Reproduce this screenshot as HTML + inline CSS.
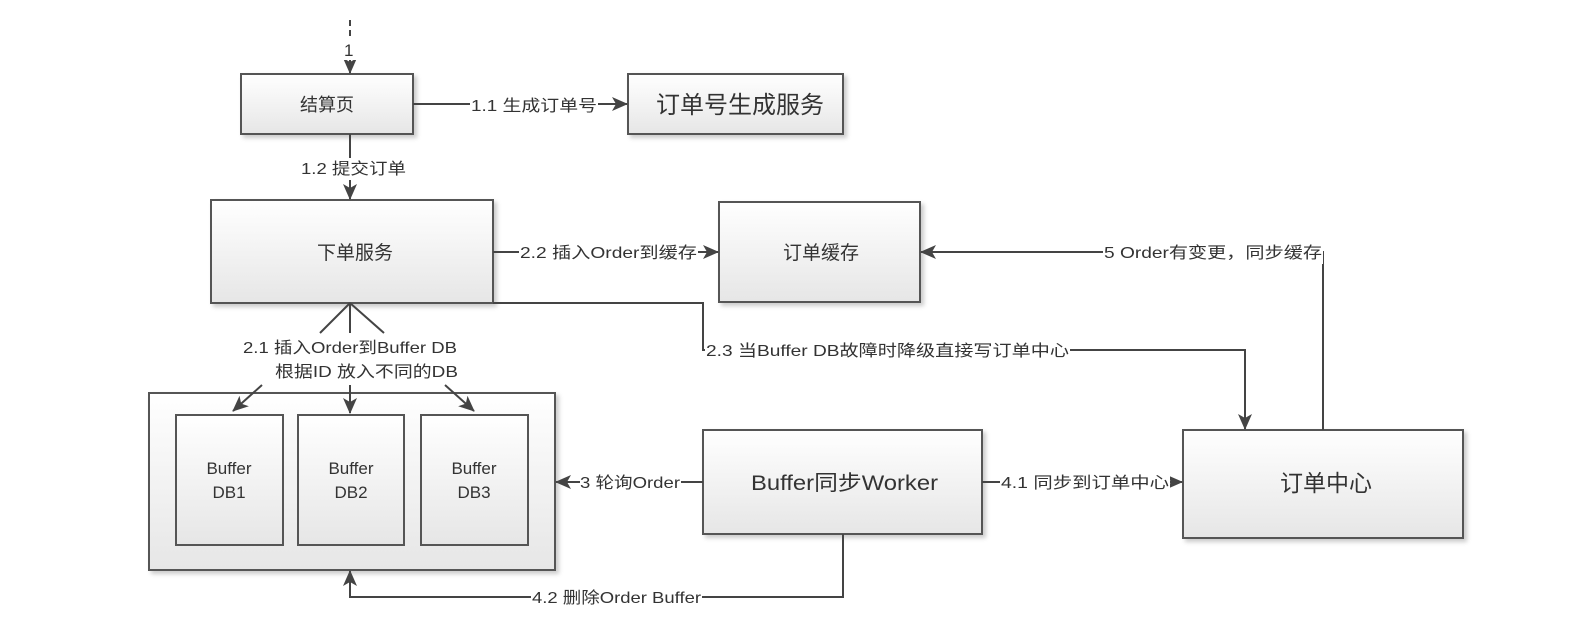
<!DOCTYPE html>
<html><head><meta charset="utf-8"><style>
body{margin:0;background:#fff}
text{font-family:"Liberation Sans","Noto Sans CJK SC",sans-serif;fill:#333}
</style></head><body>
<svg width="1572" height="630" xmlns="http://www.w3.org/2000/svg">
<defs>
<linearGradient id="g" x1="0" y1="0" x2="0" y2="1"><stop offset="0" stop-color="#ffffff"/><stop offset="1" stop-color="#e6e6e6"/></linearGradient>
<marker id="a" markerWidth="16" markerHeight="14" refX="15" refY="7" orient="auto" markerUnits="userSpaceOnUse"><path d="M0,0 L16,7 L0,14 L4,7 z" fill="#444"/></marker>
<filter id="s" x="-5%" y="-5%" width="115%" height="125%"><feDropShadow dx="3" dy="3" stdDeviation="2" flood-color="#000" flood-opacity="0.2"/></filter>
</defs>
<g stroke="#555" stroke-width="2" fill="url(#g)" filter="url(#s)">
<rect x="241" y="74" width="172" height="60"/>
<rect x="628" y="74" width="215" height="60"/>
<rect x="211" y="200" width="282" height="103"/>
<rect x="719" y="202" width="201" height="100"/>
<rect x="149" y="393" width="406" height="177"/>
<rect x="176" y="415" width="107" height="130"/>
<rect x="298" y="415" width="106" height="130"/>
<rect x="421" y="415" width="107" height="130"/>
<rect x="703" y="430" width="279" height="104"/>
<rect x="1183" y="430" width="280" height="108"/>
</g>
<g stroke="#444" stroke-width="2" fill="none">
<path d="M350,20 V73" stroke-dasharray="6,4" marker-end="url(#a)"/>
<path d="M413,104 H627" marker-end="url(#a)"/>
<path d="M350,134 V199" marker-end="url(#a)"/>
<path d="M493,252 H718" marker-end="url(#a)"/>
<path d="M1323,430 V252 H921" marker-end="url(#a)"/>
<path d="M493,303 H703 V350 H1245 V429" marker-end="url(#a)"/>
<path d="M350,303 L320,333 M350,303 V333 M350,303 L384,333"/>
<path d="M262,385 L233,411" marker-end="url(#a)"/>
<path d="M350,385 V413" marker-end="url(#a)"/>
<path d="M445,385 L474,411" marker-end="url(#a)"/>
<path d="M703,482 H556" marker-end="url(#a)"/>
<path d="M982,482 H1182" marker-end="url(#a)"/>
<path d="M843,534 V597 H350 V571" marker-end="url(#a)"/>
</g>
<g fill="#fff">
<rect x="343" y="40" width="14" height="20"/>
<rect x="470" y="94" width="128" height="22"/>
<rect x="300" y="158" width="107" height="22"/>
<rect x="519" y="242" width="179" height="22"/>
<rect x="1103" y="242" width="220" height="22"/>
<rect x="705" y="340" width="365" height="22"/>
<rect x="580" y="472" width="101" height="22"/>
<rect x="1000" y="472" width="170" height="22"/>
<rect x="531" y="587" width="171" height="22"/>
</g>
<g font-size="16">
<text x="344" y="56" font-size="17">1</text>
<text x="471" y="111" textLength="126" lengthAdjust="spacingAndGlyphs">1.1 生成订单号</text>
<text x="301" y="174" textLength="105" lengthAdjust="spacingAndGlyphs">1.2 提交订单</text>
<text x="520" y="258" textLength="177" lengthAdjust="spacingAndGlyphs">2.2 插入Order到缓存</text>
<text x="1104" y="258" textLength="218" lengthAdjust="spacingAndGlyphs">5 Order有变更，同步缓存</text>
<text x="706" y="356" textLength="363" lengthAdjust="spacingAndGlyphs">2.3 当Buffer DB故障时降级直接写订单中心</text>
<text x="243" y="353" textLength="214" lengthAdjust="spacingAndGlyphs">2.1 插入Order到Buffer DB</text>
<text x="275" y="377" textLength="183" lengthAdjust="spacingAndGlyphs">根据ID 放入不同的DB</text>
<text x="580" y="488" textLength="100" lengthAdjust="spacingAndGlyphs">3 轮询Order</text>
<text x="1001" y="488" textLength="168" lengthAdjust="spacingAndGlyphs">4.1 同步到订单中心</text>
<text x="532" y="603" textLength="169" lengthAdjust="spacingAndGlyphs">4.2 删除Order Buffer</text>
</g>
<g text-anchor="middle">
<text x="327" y="111" font-size="18">结算页</text>
<text x="740" y="113" font-size="24">订单号生成服务</text>
<text x="355" y="259" font-size="19">下单服务</text>
<text x="821" y="259" font-size="19">订单缓存</text>
<g font-size="17">
<text x="229" y="474">Buffer</text><text x="229" y="498">DB1</text>
<text x="351" y="474">Buffer</text><text x="351" y="498">DB2</text>
<text x="474" y="474">Buffer</text><text x="474" y="498">DB3</text>
</g>
<text x="751" y="490" font-size="21" text-anchor="start" textLength="187" lengthAdjust="spacingAndGlyphs">Buffer同步Worker</text>
<text x="1326" y="491" font-size="23">订单中心</text>
</g>
</svg>
</body></html>
